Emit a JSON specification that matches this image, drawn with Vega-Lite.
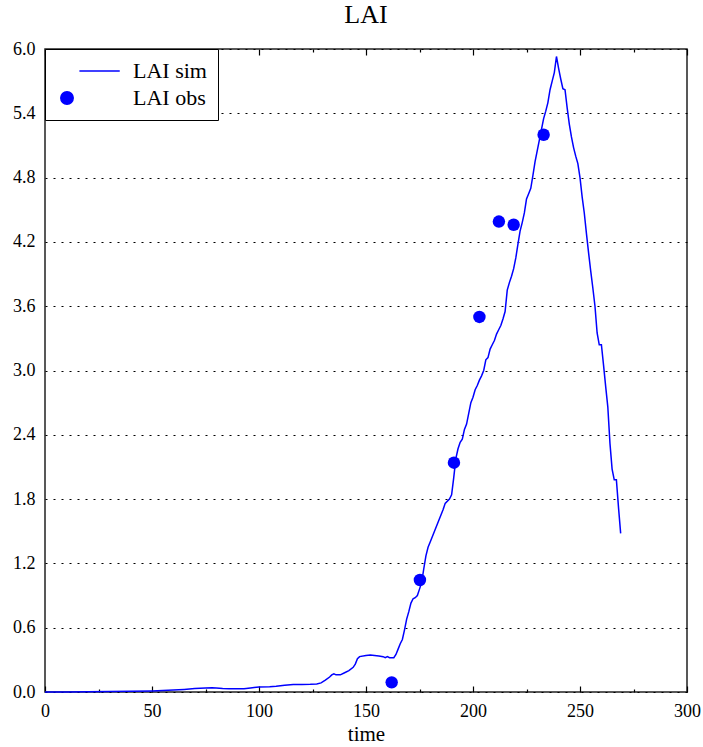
{
  "$schema": "https://vega.github.io/schema/vega-lite/v6.json",
  "width": 642,
  "height": 643,
  "autosize": {"type": "none"},
  "padding": {"left": 45, "top": 49, "right": 16, "bottom": 55},
  "background": "white",
  "title": {"text": "LAI", "font": "Liberation Serif, Times New Roman, serif", "fontSize": 26, "fontWeight": "normal", "color": "black", "offset": 12},
  "config": {
    "font": "Liberation Serif, Times New Roman, serif",
    "view": {"stroke": "#222", "strokeWidth": 1.5}
  },
  "datasets": {
    "sim": [
      {"t": 0, "lai": 0}, {"t": 10, "lai": 0}, {"t": 20, "lai": 0.002}, {"t": 30, "lai": 0.004},
      {"t": 40, "lai": 0.007}, {"t": 50, "lai": 0.01}, {"t": 55, "lai": 0.013}, {"t": 60, "lai": 0.018},
      {"t": 65, "lai": 0.024}, {"t": 70, "lai": 0.032}, {"t": 75, "lai": 0.038}, {"t": 78, "lai": 0.04},
      {"t": 80, "lai": 0.038}, {"t": 83, "lai": 0.032}, {"t": 86, "lai": 0.03}, {"t": 90, "lai": 0.03},
      {"t": 93, "lai": 0.031}, {"t": 96, "lai": 0.038}, {"t": 100, "lai": 0.046}, {"t": 105, "lai": 0.05},
      {"t": 108, "lai": 0.054}, {"t": 112, "lai": 0.063}, {"t": 116, "lai": 0.07}, {"t": 120, "lai": 0.07},
      {"t": 124, "lai": 0.072}, {"t": 127, "lai": 0.075}, {"t": 129, "lai": 0.085}, {"t": 131, "lai": 0.11},
      {"t": 133, "lai": 0.14}, {"t": 134, "lai": 0.16}, {"t": 135, "lai": 0.17}, {"t": 136, "lai": 0.16},
      {"t": 138, "lai": 0.16}, {"t": 140, "lai": 0.18}, {"t": 142, "lai": 0.2}, {"t": 144, "lai": 0.23},
      {"t": 145, "lai": 0.26}, {"t": 146, "lai": 0.31}, {"t": 147, "lai": 0.33}, {"t": 150, "lai": 0.34},
      {"t": 152, "lai": 0.345}, {"t": 154, "lai": 0.34}, {"t": 156, "lai": 0.335}, {"t": 158, "lai": 0.33},
      {"t": 159, "lai": 0.32}, {"t": 160, "lai": 0.33}, {"t": 161, "lai": 0.32}, {"t": 162, "lai": 0.32},
      {"t": 163, "lai": 0.32}, {"t": 164, "lai": 0.35}, {"t": 165, "lai": 0.4}, {"t": 166, "lai": 0.45},
      {"t": 167, "lai": 0.49}, {"t": 168, "lai": 0.58}, {"t": 169, "lai": 0.68}, {"t": 170, "lai": 0.75},
      {"t": 171, "lai": 0.83}, {"t": 172, "lai": 0.87}, {"t": 173, "lai": 0.88}, {"t": 174, "lai": 0.9},
      {"t": 175, "lai": 0.96}, {"t": 176, "lai": 1.02}, {"t": 177, "lai": 1.15}, {"t": 178, "lai": 1.27},
      {"t": 179, "lai": 1.35}, {"t": 180, "lai": 1.4}, {"t": 182, "lai": 1.5}, {"t": 184, "lai": 1.6},
      {"t": 186, "lai": 1.7}, {"t": 187, "lai": 1.76}, {"t": 189, "lai": 1.8}, {"t": 190, "lai": 1.84},
      {"t": 191, "lai": 2.0}, {"t": 192, "lai": 2.18}, {"t": 193, "lai": 2.27}, {"t": 194, "lai": 2.33},
      {"t": 195, "lai": 2.36}, {"t": 196, "lai": 2.45}, {"t": 197, "lai": 2.5}, {"t": 198, "lai": 2.6},
      {"t": 199, "lai": 2.7}, {"t": 200, "lai": 2.75}, {"t": 201, "lai": 2.82}, {"t": 202, "lai": 2.86},
      {"t": 203, "lai": 2.91}, {"t": 204, "lai": 2.95}, {"t": 205, "lai": 3.0}, {"t": 206, "lai": 3.1},
      {"t": 207, "lai": 3.12}, {"t": 208, "lai": 3.2}, {"t": 209, "lai": 3.24}, {"t": 210, "lai": 3.28},
      {"t": 211, "lai": 3.34}, {"t": 212, "lai": 3.38}, {"t": 213, "lai": 3.42}, {"t": 214, "lai": 3.48},
      {"t": 215, "lai": 3.55}, {"t": 216, "lai": 3.75}, {"t": 217, "lai": 3.82}, {"t": 218, "lai": 3.88},
      {"t": 219, "lai": 3.95}, {"t": 220, "lai": 4.05}, {"t": 221, "lai": 4.18}, {"t": 222, "lai": 4.3},
      {"t": 223, "lai": 4.38}, {"t": 224, "lai": 4.47}, {"t": 225, "lai": 4.6}, {"t": 226, "lai": 4.65},
      {"t": 227, "lai": 4.7}, {"t": 228, "lai": 4.82}, {"t": 229, "lai": 4.95}, {"t": 230, "lai": 5.05},
      {"t": 231, "lai": 5.15}, {"t": 232, "lai": 5.25}, {"t": 233, "lai": 5.35}, {"t": 234, "lai": 5.42},
      {"t": 235, "lai": 5.5}, {"t": 236, "lai": 5.62}, {"t": 237, "lai": 5.7}, {"t": 238, "lai": 5.78},
      {"t": 239, "lai": 5.93}, {"t": 240, "lai": 5.82}, {"t": 241, "lai": 5.72}, {"t": 242, "lai": 5.63},
      {"t": 243, "lai": 5.62}, {"t": 244, "lai": 5.45}, {"t": 245, "lai": 5.3}, {"t": 246, "lai": 5.18},
      {"t": 247, "lai": 5.08}, {"t": 248, "lai": 5.0}, {"t": 249, "lai": 4.93}, {"t": 250, "lai": 4.8},
      {"t": 251, "lai": 4.62}, {"t": 252, "lai": 4.47}, {"t": 253, "lai": 4.28}, {"t": 254, "lai": 4.1},
      {"t": 255, "lai": 3.93}, {"t": 256, "lai": 3.77}, {"t": 257, "lai": 3.6}, {"t": 258, "lai": 3.35},
      {"t": 259, "lai": 3.24}, {"t": 260, "lai": 3.24}, {"t": 261, "lai": 3.05}, {"t": 262, "lai": 2.85},
      {"t": 263, "lai": 2.66}, {"t": 264, "lai": 2.32}, {"t": 265, "lai": 2.08}, {"t": 266, "lai": 1.98},
      {"t": 267, "lai": 1.98}, {"t": 268, "lai": 1.72}, {"t": 269, "lai": 1.48}
    ],
    "obs": [
      {"t": 162, "lai": 0.09, "series": "LAI obs"},
      {"t": 175.2, "lai": 1.045, "series": "LAI obs"},
      {"t": 191.1, "lai": 2.14, "series": "LAI obs"},
      {"t": 203, "lai": 3.5, "series": "LAI obs"},
      {"t": 212.1, "lai": 4.39, "series": "LAI obs"},
      {"t": 219, "lai": 4.36, "series": "LAI obs"},
      {"t": 233, "lai": 5.2, "series": "LAI obs"}
    ]
  },
  "layer": [
    {
      "data": {"name": "sim"},
      "mark": {"type": "line", "color": "#0000ff", "strokeWidth": 1.5},
      "encoding": {
        "x": {
          "field": "t", "type": "quantitative",
          "scale": {"domain": [0, 300], "nice": false, "zero": false},
          "axis": {
            "orient": "bottom",
            "values": [0, 25, 50, 75, 100, 125, 150, 175, 200, 225, 250, 275, 300],
            "labelExpr": "datum.value % 50 === 0 ? datum.label : ''",
            "grid": false,
            "domain": false,
            "tickColor": "black",
            "tickWidth": 1.2,
            "tickSize": {"condition": {"test": "datum.value % 50 === 0", "value": -6}, "value": -3},
            "labelPadding": 16,
            "labelFont": "Liberation Serif, Times New Roman, serif",
            "labelFontSize": 18,
            "labelColor": "black",
            "labelFlush": false,
            "title": "time",
            "titleFont": "Liberation Serif, Times New Roman, serif",
            "titleFontSize": 21,
            "titleFontWeight": "normal",
            "titleColor": "black",
            "titlePadding": 3
          }
        },
        "y": {
          "field": "lai", "type": "quantitative",
          "scale": {"domain": [0, 6], "nice": false, "zero": false},
          "axis": {
            "values": [0, 0.6, 1.2, 1.8, 2.4, 3.0, 3.6, 4.2, 4.8, 5.4, 6.0],
            "format": ".1f",
            "ticks": false,
            "domain": false,
            "grid": true,
            "gridDash": [2, 6],
            "gridColor": "black",
            "gridWidth": 1.2,
            "gridOpacity": 1,
            "labelPadding": 10,
            "labelFont": "Liberation Serif, Times New Roman, serif",
            "labelFontSize": 18,
            "labelColor": "black",
            "title": null
          }
        }
      }
    },
    {
      "data": {"name": "obs"},
      "mark": {"type": "point", "filled": true, "size": 155, "opacity": 1},
      "encoding": {
        "x": {
          "field": "t", "type": "quantitative",
          "scale": {"domain": [0, 300], "nice": false, "zero": false},
          "axis": {
            "orient": "top",
            "values": [0, 25, 50, 75, 100, 125, 150, 175, 200, 225, 250, 275, 300],
            "labels": false,
            "grid": false,
            "domain": false,
            "tickColor": "black",
            "tickWidth": 1.2,
            "tickSize": {"condition": {"test": "datum.value % 50 === 0", "value": -6}, "value": -3},
            "title": null
          }
        },
        "y": {
          "field": "lai", "type": "quantitative",
          "scale": {"domain": [0, 6], "nice": false, "zero": false},
          "axis": {
            "values": [0, 0.6, 1.2, 1.8, 2.4, 3.0, 3.6, 4.2, 4.8, 5.4, 6.0],
            "format": ".1f",
            "ticks": false,
            "domain": false,
            "grid": true,
            "gridDash": [2, 6],
            "gridColor": "black",
            "gridWidth": 1.2,
            "gridOpacity": 1,
            "labelPadding": 10,
            "labelFont": "Liberation Serif, Times New Roman, serif",
            "labelFontSize": 18,
            "labelColor": "black",
            "title": null
          }
        },
        "color": {
          "field": "series", "type": "nominal",
          "scale": {"domain": ["LAI sim", "LAI obs"], "range": ["#0000ff", "#0000ff"]},
          "legend": {
            "orient": "none",
            "legendX": 0,
            "legendY": 0,
            "title": null,
            "strokeColor": "black",
            "fillColor": "white",
            "padding": 11,
            "labelFont": "Liberation Serif, Times New Roman, serif",
            "labelFontSize": 22,
            "labelColor": "black",
            "labelOffset": 55,
            "symbolSize": 154,
            "rowPadding": 5,
            "symbolStrokeColor": "#0000ff",
            "symbolStrokeWidth": 1.5
          }
        },
        "shape": {
          "field": "series", "type": "nominal",
          "scale": {"domain": ["LAI sim", "LAI obs"], "range": ["M2.0,0L8.5,0", "circle"]}
        }
      }
    }
  ]
}
